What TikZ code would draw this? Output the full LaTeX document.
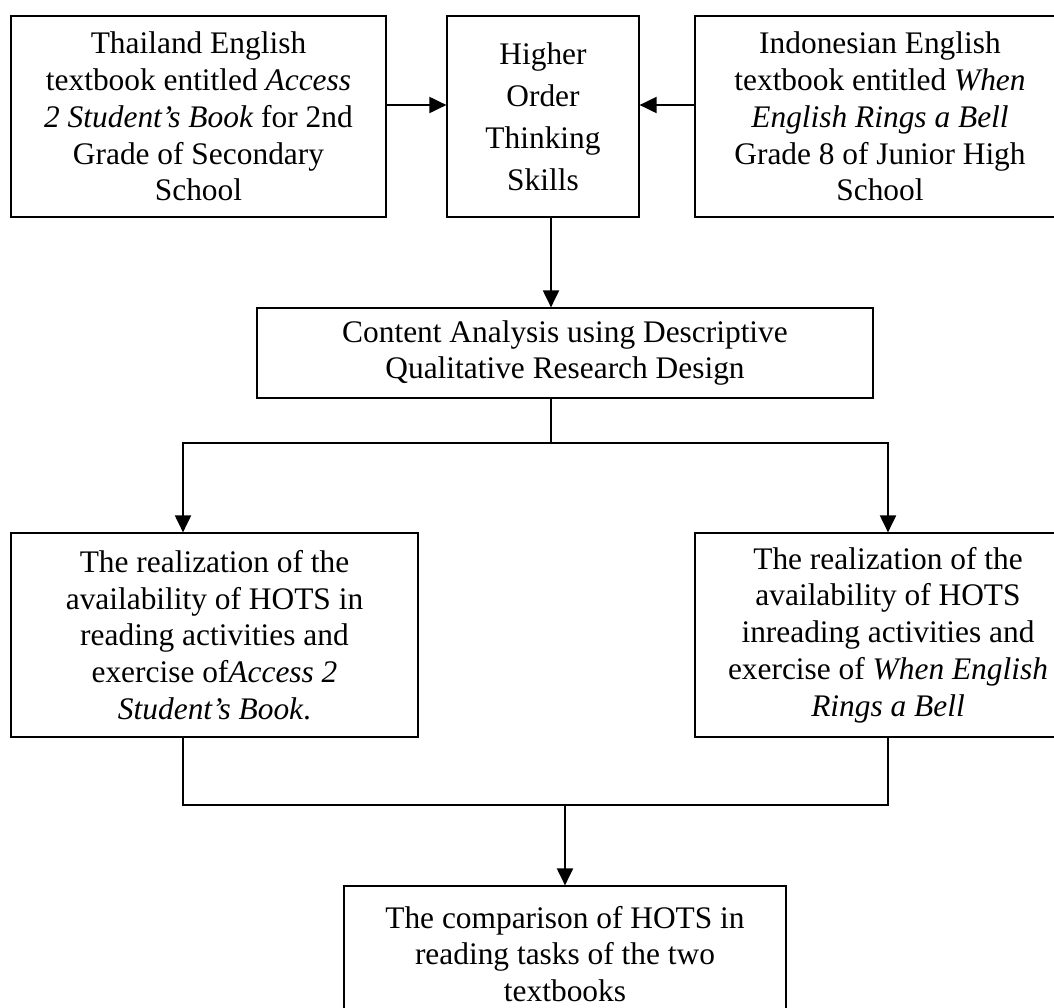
\documentclass[tikz,border=0pt]{standalone}
\usepackage{fontspec}
\setmainfont{Liberation Serif}
\usetikzlibrary{arrows.meta}

\begin{document}
\begin{tikzpicture}[x=0.5pt, y=-0.5pt, every node/.style={draw, rectangle, line width=.6pt, align=center, inner sep=0pt, font=\fontsize{15.7}{18.4}\selectfont}, arr/.style={line width=1pt, -{Triangle[length=8.5pt, width=8pt]}}]
  \useasboundingbox (0,0) rectangle (1054,1007);

  \node[minimum width=187.5pt, minimum height=100.5pt] (thai) at (198.5,116.5) {Thailand English\\ textbook entitled \textit{Access}\\ \textit{2 Student's Book} for 2nd\\ Grade of Secondary\\ School};
  \node[minimum width=96pt, minimum height=100.5pt, font=\fontsize{15.7}{21}\selectfont] (hots) at (543,116.5) {Higher\\ Order\\ Thinking\\ Skills};
  \node[minimum width=185pt, minimum height=100.5pt] (indo) at (880,116.5) {Indonesian English\\ textbook entitled \textit{When}\\ \textit{English Rings a Bell}\\ Grade 8 of Junior High\\ School};

  \node[minimum width=308pt, minimum height=45pt] (method) at (565,353) {Content Analysis using Descriptive\\ Qualitative Research Design};

  \node[minimum width=203.5pt, minimum height=102pt] (realthai) at (214.5,635) {The realization of the\\ availability of HOTS in\\ reading activities and\\ exercise of\textit{Access 2}\\ \textit{Student's Book}.};
  \node[minimum width=193pt, minimum height=102pt] (realindo) at (888,635) {The realization of the\\ availability of HOTS\\ inreading activities and\\ exercise of \textit{When English}\\ \textit{Rings a Bell}};

  \node[minimum width=221pt, minimum height=68pt] (compare) at (565,954) {The comparison of HOTS in\\ reading tasks of the two\\ textbooks};

  \coordinate (split) at (551,443);
  \coordinate (join) at (565,805);

  \draw[arr] ([yshift=5.75pt]thai.east) -- ([yshift=5.75pt]hots.west);
  \draw[arr] ([yshift=5.75pt]indo.west) -- ([yshift=5.75pt]hots.east);
  \draw[arr] ([xshift=4pt]hots.south) -- ([xshift=4pt]hots.south |- method.north);
  \draw[line width=.6pt] ([xshift=-7pt]method.south) -- (split);
  \draw[arr] (split) -| ([xshift=-15.75pt]realthai.north);
  \draw[arr] (split) -| (realindo.north);
  \draw[line width=.6pt] ([xshift=-15.75pt]realthai.south) |- (join);
  \draw[line width=.6pt] (realindo.south) |- (join);
  \draw[arr] (join) -- (compare.north);
\end{tikzpicture}
\end{document}
